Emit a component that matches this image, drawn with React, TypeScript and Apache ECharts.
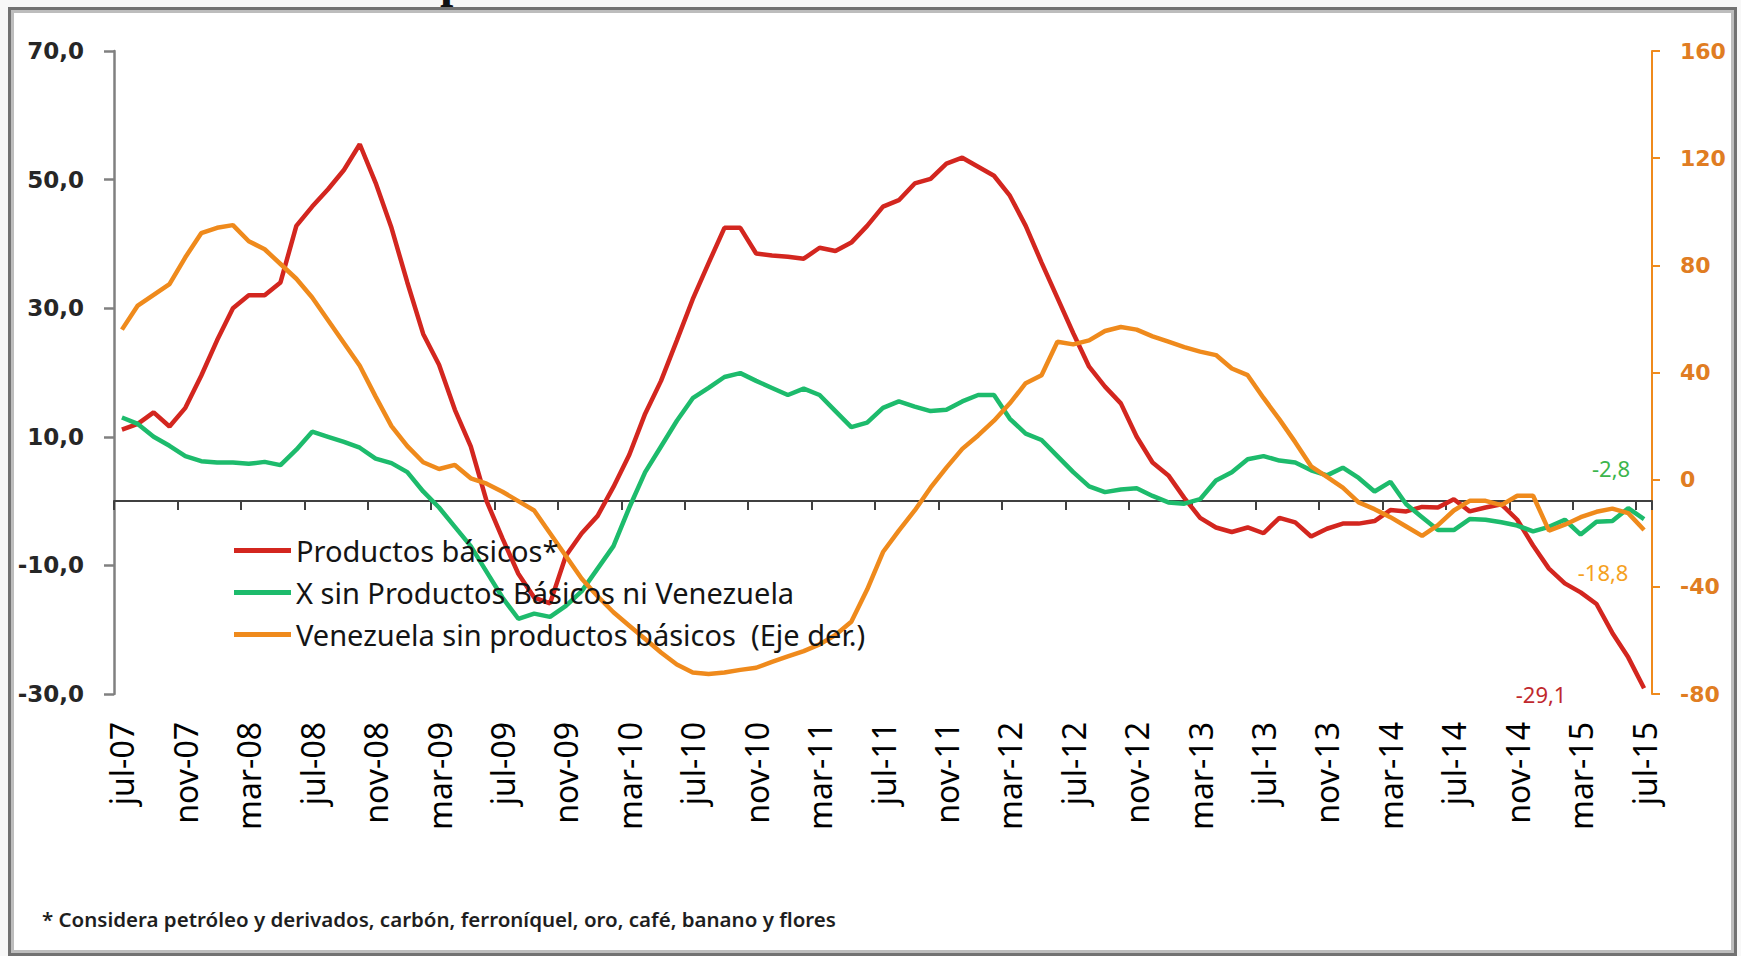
import React, { useEffect, useRef } from "react";
import * as echarts from "echarts";

const categories = [
  "jul-07", "ago-07", "sep-07", "oct-07", "nov-07", "dic-07",
  "ene-08", "feb-08", "mar-08", "abr-08", "may-08", "jun-08", "jul-08", "ago-08", "sep-08", "oct-08", "nov-08", "dic-08",
  "ene-09", "feb-09", "mar-09", "abr-09", "may-09", "jun-09", "jul-09", "ago-09", "sep-09", "oct-09", "nov-09", "dic-09",
  "ene-10", "feb-10", "mar-10", "abr-10", "may-10", "jun-10", "jul-10", "ago-10", "sep-10", "oct-10", "nov-10", "dic-10",
  "ene-11", "feb-11", "mar-11", "abr-11", "may-11", "jun-11", "jul-11", "ago-11", "sep-11", "oct-11", "nov-11", "dic-11",
  "ene-12", "feb-12", "mar-12", "abr-12", "may-12", "jun-12", "jul-12", "ago-12", "sep-12", "oct-12", "nov-12", "dic-12",
  "ene-13", "feb-13", "mar-13", "abr-13", "may-13", "jun-13", "jul-13", "ago-13", "sep-13", "oct-13", "nov-13", "dic-13",
  "ene-14", "feb-14", "mar-14", "abr-14", "may-14", "jun-14", "jul-14", "ago-14", "sep-14", "oct-14", "nov-14", "dic-14",
  "ene-15", "feb-15", "mar-15", "abr-15", "may-15", "jun-15", "jul-15",
];

const productosBasicos = [
  11.1, 12.0, 13.8, 11.6, 14.5, 19.5, 25.0, 30.0, 32.0, 32.0,
  34.0, 42.8, 45.8, 48.5, 51.5, 55.5, 49.5, 42.5, 34.0, 26.0,
  21.2, 14.2, 8.5, 0.0, -5.8, -11.3, -15.0, -15.9, -8.5, -5.0,
  -2.3, 2.2, 7.2, 13.6, 18.7, 25.0, 31.4, 37.0, 42.5, 42.5,
  38.5, 38.2, 38.0, 37.7, 39.4, 38.9, 40.2, 42.8, 45.8, 46.8,
  49.4, 50.1, 52.5, 53.4, 52.0, 50.6, 47.5, 42.8, 37.1, 31.6,
  26.1, 20.9, 17.8, 15.2, 10.0, 6.0, 4.0, 0.5, -2.6, -4.1,
  -4.8, -4.1, -5.0, -2.6, -3.3, -5.5, -4.3, -3.5, -3.5, -3.1,
  -1.4, -1.6, -0.9, -1.0, 0.3, -1.6, -1.0, -0.5, -2.9, -6.9,
  -10.5, -12.8, -14.2, -16.0, -20.5, -24.3, -29.1,
];

const xSinProductos = [
  13.0, 12.0, 10.0, 8.6, 7.0, 6.2, 6.0, 6.0, 5.8, 6.1,
  5.6, 8.0, 10.8, 10.0, 9.2, 8.3, 6.6, 5.9, 4.5, 1.5,
  -1.0, -4.0, -7.0, -11.0, -15.0, -18.3, -17.5, -18.0, -16.3, -14.0,
  -10.5, -7.0, -1.0, 4.5, 8.5, 12.5, 16.0, 17.6, 19.3, 19.9,
  18.7, 17.6, 16.5, 17.5, 16.5, 14.0, 11.5, 12.2, 14.5, 15.5,
  14.7, 14.0, 14.2, 15.5, 16.5, 16.5, 12.8, 10.5, 9.5, 7.0,
  4.5, 2.3, 1.4, 1.8, 2.0, 0.8, -0.2, -0.4, 0.3, 3.2,
  4.5, 6.5, 7.0, 6.3, 6.0, 4.8, 4.0, 5.2, 3.6, 1.5,
  3.0, -0.5, -2.5, -4.5, -4.5, -2.8, -2.9, -3.3, -3.8, -4.7,
  -4.0, -2.9, -5.2, -3.2, -3.1, -1.1, -2.8,
];

const venezuela = [
  56.0, 65.0, 69.0, 73.0, 83.0, 92.0, 94.0, 95.0, 89.0, 86.0,
  80.5, 75.0, 68.0, 59.5, 51.0, 42.5, 31.0, 20.0, 12.5, 6.5,
  4.0, 5.5, 0.5, -1.5, -4.5, -8.0, -11.5, -20.0, -28.5, -37.0,
  -43.5, -49.5, -54.5, -59.5, -64.5, -69.0, -72.0, -72.5, -72.0, -71.0,
  -70.2, -68.0, -66.0, -64.0, -61.5, -58.0, -53.0, -41.0, -27.0, -19.0,
  -11.5, -3.0, 4.5, 11.5, 16.5, 22.0, 28.5, 36.0, 39.0, 51.5,
  50.5, 52.0, 55.5, 57.0, 56.0, 53.5, 51.5, 49.5, 47.8, 46.5,
  41.5, 39.0, 30.5, 22.5, 14.0, 5.0, 1.0, -3.0, -8.5, -11.0,
  -14.0, -17.5, -21.0, -17.0, -11.5, -7.9, -7.9, -9.5, -6.0, -6.0,
  -19.0, -16.8, -14.0, -12.0, -10.8, -12.5, -18.8,
];

const seriesNames = [
  "Productos básicos*",
  "X sin Productos Básicos ni Venezuela",
  "Venezuela sin productos básicos  (Eje der.)",
];

const footnote =
  "* Considera petróleo y derivados, carbón, ferroníquel, oro, café, banano y flores";

const RED = "#d3261f";
const GREEN = "#1dbb6c";
const ORANGE = "#ef8a1c";

const fmt = (v: number, d = 1) => Number(v).toFixed(d).replace(".", ",");
const valOf = (p: any) => (Array.isArray(p.value) ? p.value[1] : p.value);

export default function App() {
  const ref = useRef<HTMLDivElement>(null);

  useEffect(() => {
    const chart = echarts.init(ref.current!, null, { renderer: "svg" });
    const labelFont = { fontFamily: "Noto Sans", fontSize: 22 };
    chart.setOption({
      animation: false,
      backgroundColor: "#f8f8f8",
      graphic: [
        {
          type: "text",
          silent: true,
          z: -3,
          x: 440,
          y: -20,
          style: {
            text: "p",
            fontFamily: "Liberation Serif",
            fontWeight: "bold",
            fontSize: 48,
            fill: "#111111",
            verticalAlign: "middle",
          },
        },
        {
          type: "rect",
          silent: true,
          z: -2,
          shape: { x: 9.5, y: 8.5, width: 1726, height: 946 },
          style: { fill: "#ffffff", stroke: "#727272", lineWidth: 3 },
        },
        {
          type: "rect",
          silent: true,
          z: -1,
          shape: { x: 12.5, y: 11.5, width: 1720, height: 940 },
          style: { fill: "#ffffff", stroke: "#bdbdbd", lineWidth: 3 },
        },
        {
          type: "text",
          x: 42,
          y: 919,
          style: {
            text: footnote,
            fontFamily: "Noto Sans",
            fontWeight: 600,
            fontSize: 20.5,
            fill: "#1e1e1e",
            verticalAlign: "middle",
          },
        },
      ],
      grid: { left: 114, right: 89, top: 51, bottom: 262, containLabel: false },
      legend: {
        orient: "vertical",
        left: 229,
        top: 531,
        itemWidth: 57,
        itemHeight: 5,
        itemGap: 13,
        icon: "rect",
        data: seriesNames,
        textStyle: {
          fontFamily: "Noto Sans",
          fontSize: 29,
          color: "#141414",
          lineHeight: 29,
        },
      },
      xAxis: [
        {
          type: "category",
          data: categories,
          boundaryGap: true,
          axisLine: {
            show: true,
            onZero: true,
            onZeroAxisIndex: 0,
            lineStyle: { color: "#404040", width: 2 },
          },
          axisTick: { show: true, interval: 3, length: 9, lineStyle: { color: "#404040", width: 2 } },
          axisLabel: { show: false },
          splitLine: { show: false },
        },
        {
          type: "category",
          data: categories,
          boundaryGap: true,
          position: "bottom",
          axisLine: { show: false, onZero: false },
          axisTick: { show: false },
          axisLabel: {
            interval: 3,
            rotate: 90,
            margin: 28,
            fontFamily: "Noto Sans",
            fontSize: 32,
            color: "#000000",
          },
          splitLine: { show: false },
        },
      ],
      yAxis: [
        {
          type: "value",
          position: "left",
          min: -30,
          max: 70,
          interval: 20,
          axisLine: { show: true, lineStyle: { color: "#808080", width: 2.5 } },
          axisTick: { show: true, length: 10, lineStyle: { color: "#808080", width: 2.5 } },
          axisLabel: {
            formatter: (v: number) => fmt(v),
            fontFamily: "DejaVu Sans",
            fontWeight: "bold",
            fontSize: 23,
            color: "#262626",
            margin: 30,
          },
          splitLine: { show: false },
        },
        {
          type: "value",
          position: "right",
          min: -80,
          max: 160,
          interval: 40,
          axisLine: { show: true, lineStyle: { color: ORANGE, width: 2 } },
          axisTick: { show: true, length: 8, lineStyle: { color: ORANGE, width: 2 } },
          axisLabel: {
            fontFamily: "DejaVu Sans",
            fontWeight: "bold",
            fontSize: 22,
            color: "#e07d22",
            margin: 28,
          },
          splitLine: { show: false },
        },
      ],
      series: [
        {
          name: seriesNames[0],
          type: "line",
          xAxisIndex: 0,
          yAxisIndex: 0,
          data: productosBasicos,
          symbol: "none",
          lineStyle: { color: RED, width: 4.5 },
          itemStyle: { color: RED },
          endLabel: {
            show: true,
            formatter: (p: any) => fmt(valOf(p)),
            color: "#c0282d",
            ...labelFont,
            align: "center",
            verticalAlign: "middle",
            distance: 0,
            offset: [-103, 6],
          },
        },
        {
          name: seriesNames[1],
          type: "line",
          xAxisIndex: 0,
          yAxisIndex: 0,
          data: xSinProductos,
          symbol: "none",
          lineStyle: { color: GREEN, width: 4.5 },
          itemStyle: { color: GREEN },
          endLabel: {
            show: true,
            formatter: (p: any) => fmt(valOf(p)),
            color: "#3cb54c",
            ...labelFont,
            align: "center",
            verticalAlign: "middle",
            distance: 0,
            offset: [-33, -51],
          },
        },
        {
          name: seriesNames[2],
          type: "line",
          xAxisIndex: 0,
          yAxisIndex: 1,
          data: venezuela,
          symbol: "none",
          lineStyle: { color: ORANGE, width: 4.5 },
          itemStyle: { color: ORANGE },
          endLabel: {
            show: true,
            formatter: (p: any) => fmt(valOf(p)),
            color: "#f5a11e",
            ...labelFont,
            align: "center",
            verticalAlign: "middle",
            distance: 0,
            offset: [-41, 42],
          },
        },
      ],
    });
    return () => chart.dispose();
  }, []);

  return (
    <div
      ref={ref}
      style={{ position: "absolute", left: 0, top: 0, width: 1741, height: 956 }}
    />
  );
}
